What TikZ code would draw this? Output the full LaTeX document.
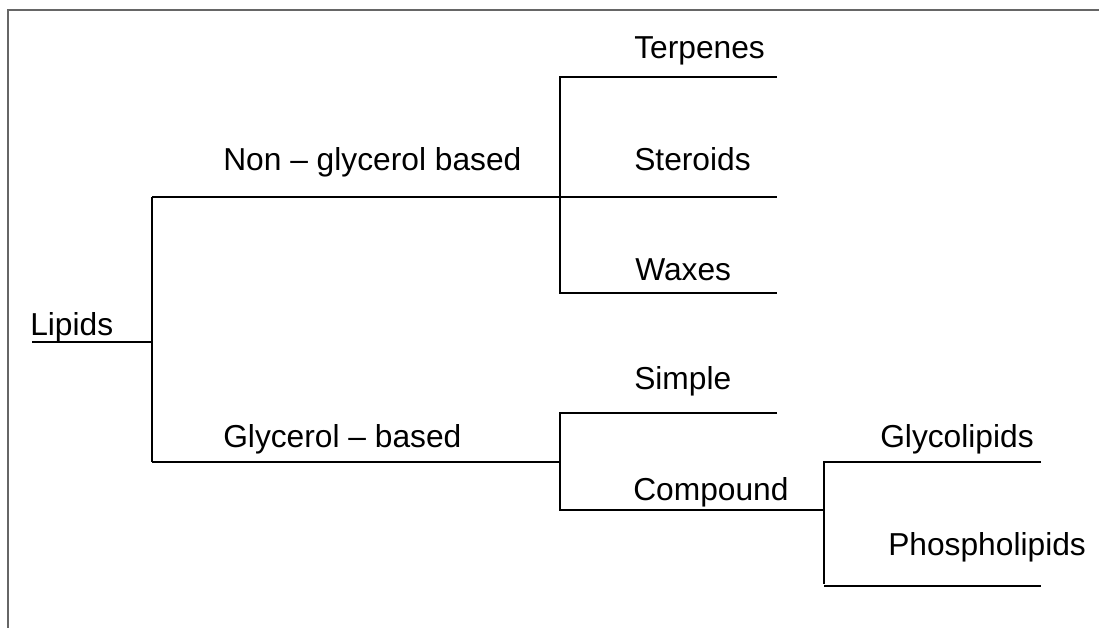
\documentclass[tikz,border=0pt]{standalone}
\usepackage{fontspec}
\setmainfont{Liberation Sans}
\definecolor{framegray}{HTML}{666666}
\begin{document}
\begin{tikzpicture}[x=0.75pt,y=-0.75pt,
  lbl/.style={anchor=base west, inner sep=0pt, font=\fontsize{23.8}{28}\selectfont},
  ln/.style={line width=1.8pt, black},
  framestyle/.style={line width=1.8pt, draw=framegray}]
\useasboundingbox (0,0) rectangle (1099,628);
% frame
\coordinate (fTR) at (1099,10);
\coordinate (fTL) at (8,10);
\coordinate (fBL) at (8,628);
\draw[framestyle] (fTR) -- (fTL) -- (fBL);
% labels
\node[lbl] (lipids) at (30,335) {Lipids};
\node[lbl] (nongly) at (223,170) {Non – glycerol based};
\node[lbl] (terp) at (634,58) {Terpenes};
\node[lbl] (ster) at (634,170) {Steroids};
\node[lbl] (wax) at (635,280) {Waxes};
\node[lbl] (gly) at (223,447) {Glycerol – based};
\node[lbl] (simple) at (634,389) {Simple};
\node[lbl] (comp) at (633,500) {Compound};
\node[lbl] (glyco) at (880,447) {Glycolipids};
\node[lbl] (phos) at (888,555) {Phospholipids};
% junction coordinates
\coordinate (l0) at (32,342);
\coordinate (l1) at (152,342);
\coordinate (a1) at (152,197);
\coordinate (a2) at (152,462);
\coordinate (b0) at (560,197);
\coordinate (b1) at (560,77);
\coordinate (b2) at (560,293);
\coordinate (tE) at (777,77);
\coordinate (sE) at (777,197);
\coordinate (wE) at (777,293);
\coordinate (c0) at (560,462);
\coordinate (c1) at (560,413);
\coordinate (c2) at (560,510);
\coordinate (simE) at (777,413);
\coordinate (d0) at (824,510);
\coordinate (d1) at (824,462);
\coordinate (d2) at (824,584);
\coordinate (gE) at (1041,462);
\coordinate (d3) at (824,586);
\coordinate (pE) at (1041,586);
% connectors
\draw[ln] (l0) -- (l1);
\draw[ln] (a1) -- (a2);
\draw[ln] (a1) -- (b0) -- (sE);
\draw[ln] (tE) -- (b1) -- (b2) -- (wE);
\draw[ln] (a2) -- (c0);
\draw[ln] (simE) -- (c1) -- (c2) -- (d0);
\draw[ln] (gE) -- (d1) -- (d2);
\draw[ln] (d3) -- (pE);
\end{tikzpicture}
\end{document}
